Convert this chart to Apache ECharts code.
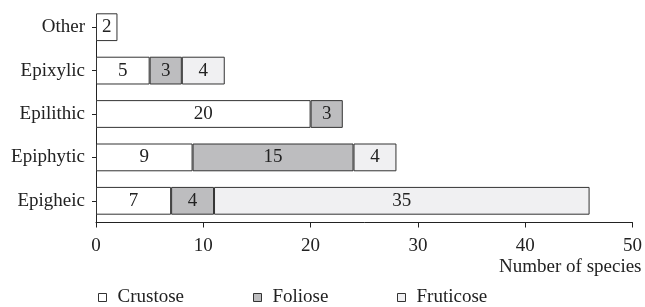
<!DOCTYPE html>
<html><head><meta charset="utf-8">
<script src="https://cdn.jsdelivr.net/npm/echarts@6/dist/echarts.min.js"></script>
<style>html,body{margin:0;padding:0;background:#fff}#c{width:645px;height:307px}</style>
</head><body><div id="c"></div>
<script>
const categories = ['Epigheic', 'Epiphytic', 'Epilithic', 'Epixylic', 'Other'];
const crustose = [7, 9, 20, 5, 2];
const foliose = [4, 15, 3, 3, 0];
const fruticose = [35, 4, 0, 4, 0];
const seriesNames = ['Crustose', 'Foliose', 'Fruticose'];
const xTicks = [0, 10, 20, 30, 40, 50];

const FONT = '"Liberation Serif", "Times New Roman", serif';
const FS = 19;
const colors = ['#ffffff', '#bdbdbf', '#f0f0f2'];
const values = [crustose, foliose, fruticose];

const series = seriesNames.map((n, i) => ({
  name: n, type: 'bar', stack: 'total', xAxisIndex: 0, yAxisIndex: 0,
  barWidth: '64%',
  itemStyle: { color: colors[i], borderColor: '#333', borderWidth: 1 },
  label: { show: true, position: 'inside', color: '#222', fontFamily: FONT, fontSize: FS,
    formatter: p => (p.value ? String(p.value) : '') },
  data: values[i].map(v => (v === 0 ? '-' : v))
}));

const legendPos = [93, 248, 392];
const legends = seriesNames.map((n, i) => ({
  data: [n], left: legendPos[i], top: 283, icon: 'rect', itemWidth: 8, itemHeight: 8, itemGap: 5,
  selectedMode: false,
  textStyle: { fontFamily: FONT, fontSize: FS, color: '#222', padding: [0, 0, 0, 6] },
  itemStyle: { borderColor: '#333', borderWidth: 1 }
}));

const option = {
  animation: false,
  backgroundColor: '#fff',
  legend: legends,
  grid: [
    { left: 96, right: 10, top: 5.5, bottom: 84.5 },
    { left: 96, right: 10, top: 15, bottom: 84 }
  ],
  xAxis: [
    { type: 'value', gridIndex: 0, min: xTicks[0], max: xTicks[xTicks.length - 1], interval: 10,
      axisLine: { show: true, lineStyle: { color: '#222', width: 1 } },
      axisTick: { show: true, length: 5, lineStyle: { color: '#222' } },
      splitLine: { show: false },
      axisLabel: { fontFamily: FONT, fontSize: FS, color: '#222', margin: 14 },
      name: 'Number of species', nameLocation: 'end', nameGap: 9,
      nameTextStyle: { fontFamily: FONT, fontSize: FS, color: '#222', align: 'right', verticalAlign: 'top', padding: [35, 0, 0, 0] }
    },
    { type: 'value', gridIndex: 1, show: false, min: 0, max: 1 }
  ],
  yAxis: [
    { type: 'category', gridIndex: 0, data: categories,
      axisLine: { show: false },
      axisTick: { show: true, alignWithLabel: true, length: 4, lineStyle: { color: '#222' } },
      axisLabel: { fontFamily: FONT, fontSize: FS, color: '#222', margin: 11 }
    },
    { type: 'value', gridIndex: 1, min: 0, max: 1,
      axisLine: { show: true, lineStyle: { color: '#222', width: 1 } },
      axisTick: { show: false }, axisLabel: { show: false }, splitLine: { show: false }
    }
  ],
  series: series
};
const chart = echarts.init(document.getElementById('c'), null, { renderer: 'canvas' });
chart.setOption(option);
</script></body></html>
